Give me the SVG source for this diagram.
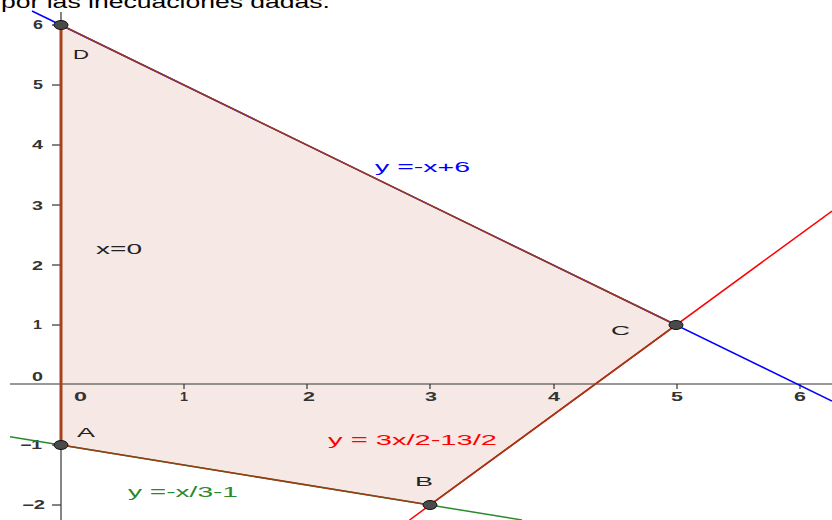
<svg xmlns="http://www.w3.org/2000/svg" width="832" height="520" viewBox="0 0 832 520">
<style>
text{font-family:"Liberation Sans",Arial,sans-serif}
.ax{font-size:12px;font-weight:bold;fill:#333}
.pt{font-size:13px;fill:#222}
.eq{font-size:15px}
.axis{stroke:#333;stroke-width:1.2;fill:none}
.tick{stroke:#333;stroke-width:1.2}
.edge{stroke:#9c3a16;stroke-width:1.6;fill:none}
.dot{fill:#4a4a4a;stroke:#111;stroke-width:1}
</style>
<rect width="832" height="520" fill="#fff"/>
<text x="1" y="8" font-size="18" fill="#000" textLength="329" lengthAdjust="spacingAndGlyphs">por las inecuaciones dadas.</text>
<g id="region">
<polygon points="61,25 676,325 430,505 61,445" fill="#f5e8e5"/>
</g>
<g id="axes">
<line class="axis" x1="10" y1="384" x2="832" y2="384"/>
<line class="axis" x1="61" y1="12" x2="61" y2="520"/>
<g class="tick">
<line x1="52" y1="25" x2="61" y2="25"/><line x1="52" y1="85" x2="61" y2="85"/><line x1="52" y1="145" x2="61" y2="145"/><line x1="52" y1="205" x2="61" y2="205"/><line x1="52" y1="265" x2="61" y2="265"/><line x1="52" y1="325" x2="61" y2="325"/><line x1="52" y1="445" x2="61" y2="445"/><line x1="52" y1="505" x2="61" y2="505"/>
<line x1="184" y1="384" x2="184" y2="389"/><line x1="307" y1="384" x2="307" y2="389"/><line x1="430" y1="384" x2="430" y2="389"/><line x1="554" y1="384" x2="554" y2="389"/><line x1="677" y1="384" x2="677" y2="389"/><line x1="800" y1="384" x2="800" y2="389"/>
</g>
<g class="ax">
<text x="33" y="29" textLength="10" lengthAdjust="spacingAndGlyphs">6</text>
<text x="33" y="89" textLength="10" lengthAdjust="spacingAndGlyphs">5</text>
<text x="32" y="149" textLength="11" lengthAdjust="spacingAndGlyphs">4</text>
<text x="32" y="210" textLength="11" lengthAdjust="spacingAndGlyphs">3</text>
<text x="32" y="270" textLength="11" lengthAdjust="spacingAndGlyphs">2</text>
<text x="33" y="329" textLength="9" lengthAdjust="spacingAndGlyphs">1</text>
<text x="32" y="381" textLength="11" lengthAdjust="spacingAndGlyphs">0</text>
<text x="20" y="449" textLength="22" lengthAdjust="spacingAndGlyphs">−1</text>
<text x="22" y="509" textLength="23" lengthAdjust="spacingAndGlyphs">−2</text>
<text x="74" y="401" textLength="13" lengthAdjust="spacingAndGlyphs">0</text>
<text x="180" y="401" textLength="8" lengthAdjust="spacingAndGlyphs">1</text>
<text x="303" y="401" textLength="12" lengthAdjust="spacingAndGlyphs">2</text>
<text x="425" y="401" textLength="12" lengthAdjust="spacingAndGlyphs">3</text>
<text x="548" y="401" textLength="12" lengthAdjust="spacingAndGlyphs">4</text>
<text x="671" y="401" textLength="12" lengthAdjust="spacingAndGlyphs">5</text>
<text x="794" y="401" textLength="12" lengthAdjust="spacingAndGlyphs">6</text>
</g>
</g>
<g id="connectors">
<line x1="32" y1="11" x2="832" y2="401" stroke="#0000ff" stroke-width="1.5"/>
<line x1="409.5" y1="520" x2="832" y2="211" stroke="#ff0000" stroke-width="1.5"/>
<line x1="10" y1="436.7" x2="522" y2="520" stroke="#2a8a2a" stroke-width="1.5"/>
<polyline class="edge" points="61,445 430,505 676,325 61,25"/>
<line x1="61" y1="25" x2="61" y2="445" stroke="#a8421a" stroke-width="3"/>
</g>
<g id="point-D"><ellipse class="dot" cx="61" cy="25" rx="7" ry="4.5"/><text class="pt" x="73" y="59" textLength="16" lengthAdjust="spacingAndGlyphs">D</text></g>
<g id="point-A"><ellipse class="dot" cx="61" cy="445" rx="7" ry="4.5"/><text class="pt" x="77" y="437" textLength="18" lengthAdjust="spacingAndGlyphs">A</text></g>
<g id="point-B"><ellipse class="dot" cx="430" cy="505" rx="7" ry="4.5"/><text class="pt" x="415" y="486" textLength="18" lengthAdjust="spacingAndGlyphs">B</text></g>
<g id="point-C"><ellipse class="dot" cx="676" cy="325" rx="7" ry="4.5"/><text class="pt" x="611" y="335" textLength="19" lengthAdjust="spacingAndGlyphs">C</text></g>
<g id="labels">
<text class="eq" x="96" y="254" fill="#222" textLength="46" lengthAdjust="spacingAndGlyphs">x=0</text>
<text class="eq" x="375" y="172" fill="#0000ff" textLength="95" lengthAdjust="spacingAndGlyphs">y =-x+6</text>
<text class="eq" x="328" y="445" fill="#ff0000" textLength="169" lengthAdjust="spacingAndGlyphs">y = 3x/2-13/2</text>
<text class="eq" x="128" y="497" fill="#2a8a2a" textLength="110" lengthAdjust="spacingAndGlyphs">y =-x/3-1</text>
</g>
</svg>
